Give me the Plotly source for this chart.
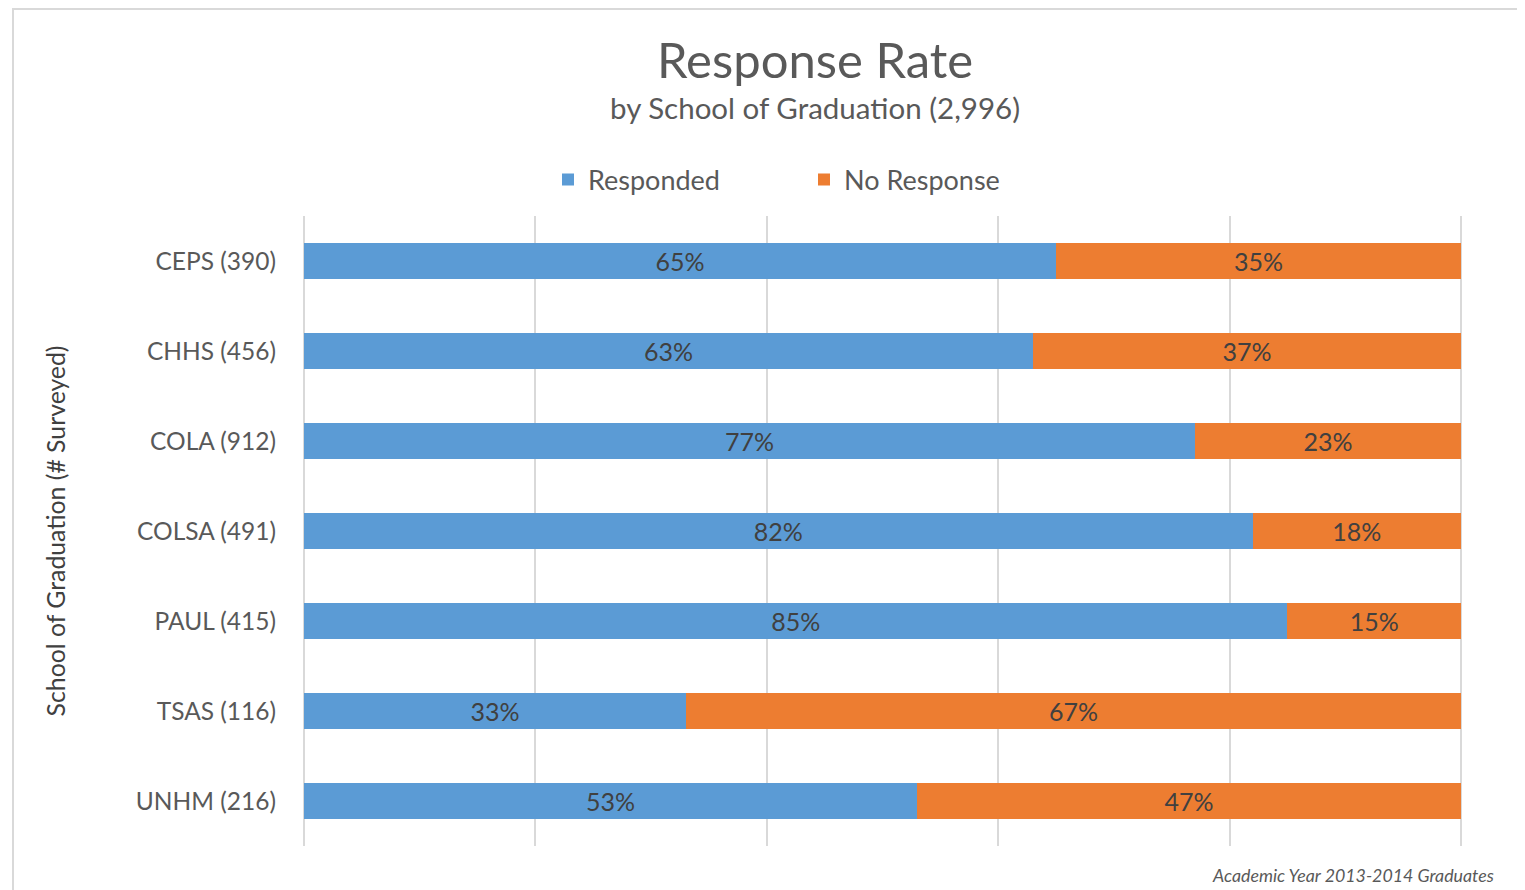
import plotly.graph_objects as go

schools = ["CEPS (390)", "CHHS (456)", "COLA (912)", "COLSA (491)", "PAUL (415)", "TSAS (116)", "UNHM (216)"]
responded = [65, 63, 77, 82, 85, 33, 53]
no_response = [35, 37, 23, 18, 15, 67, 47]

FONT = "Lato"
W, H = 1525, 890
OFF = 8  # page body margin offset
L, R, T, B = 304 - OFF, 64 + OFF, 216 - OFF, 44 + OFF
PW, PH = W - L - R, H - T - B

def px(x):
    return (x - OFF - L) / PW

def py(y):
    return (H - B - (y - OFF)) / PH

fig = go.Figure()
fig.add_trace(go.Bar(
    y=schools, x=responded, name="Responded", orientation="h",
    marker=dict(color="#5B9BD5", line=dict(width=0)),
    text=[f"{v}%" for v in responded], textposition="inside",
    insidetextanchor="middle", textfont=dict(size=25, color="#404040", family=FONT),
    hoverinfo="skip",
))
fig.add_trace(go.Bar(
    y=schools, x=no_response, name="No Response", orientation="h",
    marker=dict(color="#ED7D31", line=dict(width=0)),
    text=[f"{v}%" for v in no_response], textposition="inside",
    insidetextanchor="middle", textfont=dict(size=25, color="#404040", family=FONT),
    hoverinfo="skip",
))

shapes = [
    dict(type="rect", xref="paper", yref="paper", x0=px(13), x1=px(1545), y0=py(910), y1=py(9),
         line=dict(color="#D9D9D9", width=2), fillcolor="rgba(0,0,0,0)", layer="below"),
]
# gridlines at the plot-area edges (plotly omits them at the range bounds)
for edge in (0, 1):
    shapes.append(dict(type="line", xref="paper", yref="paper", x0=edge, x1=edge, y0=0, y1=1,
                       line=dict(color="#D9D9D9", width=2), layer="below"))

fig.update_layout(
    width=W, height=H, barmode="stack", bargap=0.6,
    margin=dict(l=L, r=R, t=T, b=B),
    plot_bgcolor="white", paper_bgcolor="white",
    font=dict(family=FONT, color="#595959"),
    showlegend=True,
    legend=dict(orientation="h", x=px(548), y=py(180), xanchor="left", yanchor="middle",
                font=dict(size=27, color="#595959", family=FONT), entrywidth=211,
                entrywidthmode="pixels", itemclick=False, traceorder="normal"),
    xaxis=dict(range=[0, 100], tick0=0, dtick=20, showgrid=True, gridcolor="#D9D9D9", gridwidth=2,
               showticklabels=False, zeroline=False, showline=False, fixedrange=True),
    yaxis=dict(autorange="reversed", showgrid=False, ticks="", ticklabelstandoff=27,
               tickfont=dict(size=24.5, color="#595959", family=FONT),
               title=dict(text="School of Graduation (# Surveyed)",
                          font=dict(size=24.8, color="#404040", family=FONT), standoff=63),
               showline=False, zeroline=False),
    annotations=[
        dict(text="Response Rate", x=px(815), y=py(59), xref="paper", yref="paper",
             showarrow=False, font=dict(size=49, color="#595959", family=FONT),
             xanchor="center", yanchor="middle"),
        dict(text="by School of Graduation (2,996)", x=px(815), y=py(108), xref="paper",
             yref="paper", showarrow=False, font=dict(size=29.5, color="#595959", family=FONT),
             xanchor="center", yanchor="middle"),
        dict(text="<i>Academic Year 2013-2014 Graduates</i>", x=px(1496), y=py(875),
             xref="paper", yref="paper", showarrow=False,
             font=dict(size=17.8, color="#595959", family=FONT), xanchor="right", yanchor="middle"),
    ],
    shapes=shapes,
)

fig.write_html("out.html")
